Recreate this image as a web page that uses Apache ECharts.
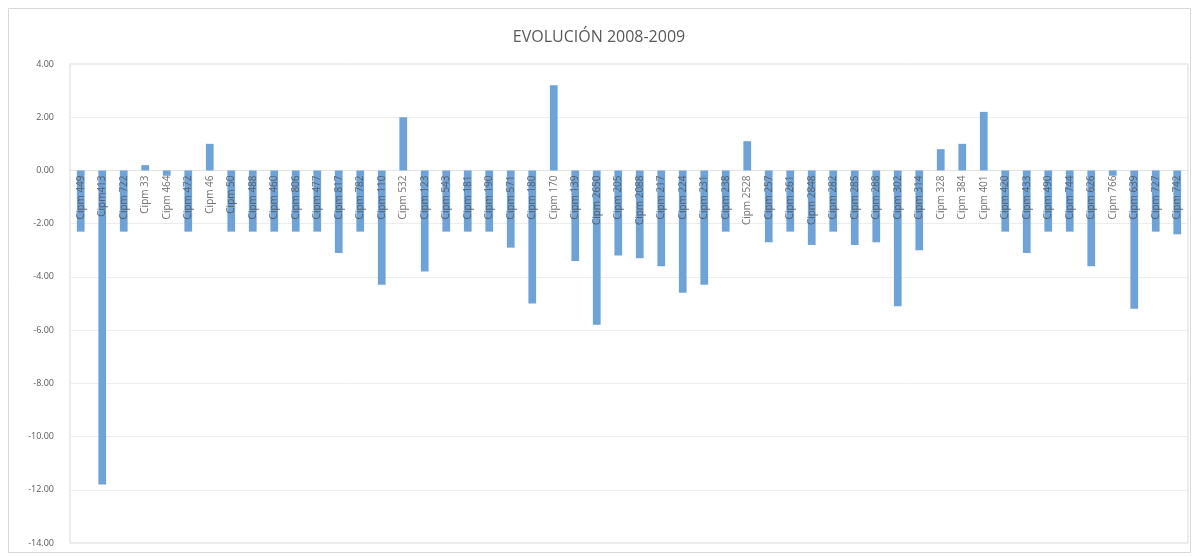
<!DOCTYPE html>
<html>
<head>
<meta charset="utf-8">
<script src="https://cdn.jsdelivr.net/npm/echarts@6/dist/echarts.min.js"></script>
<style>
  html, body { margin: 0; padding: 0; background: #ffffff; }
  #chart { width: 1198px; height: 557px; }
</style>
</head>
<body>
<div id="chart"></div>
<script>
// Centros (categorías del eje X)
const categories = [
  'Cipm 449', 'Cipm413', 'Cipm 722', 'Cipm 33', 'Cipm 464', 'Cipm 472', 'Cipm 46', 'Cipm 50',
  'Cipm 488', 'Cipm 460', 'Cipm 806', 'Cipm 477', 'Cipm 817', 'Cipm 782', 'Cipm 110', 'Cipm 532',
  'Cipm 123', 'Cipm 543', 'Cipm 181', 'Cipm 190', 'Cipm 571', 'Cipm 180', 'Cipm 170', 'Cipm 139',
  'Cipm 2650', 'Cipm 205', 'Cipm 2088', 'Cipm 217', 'Cipm 224', 'Cipm 231', 'Cipm 238', 'Cipm 2528',
  'Cipm 257', 'Cipm 261', 'Cipm 2848', 'Cipm 282', 'Cipm 285', 'Cipm 288', 'Cipm 302', 'Cipm 314',
  'Cipm 328', 'Cipm 384', 'Cipm 401', 'Cipm 420', 'Cipm 433', 'Cipm 490', 'Cipm 744', 'Cipm 626',
  'Cipm 766', 'Cipm 639', 'Cipm 727', 'Cipm 742'
];

// Variación 2008-2009 por centro
const evolucion = [
  -2.3, -11.8, -2.3, 0.2, -0.2, -2.3, 1.0, -2.3,
  -2.3, -2.3, -2.3, -2.3, -3.1, -2.3, -4.3, 2.0,
  -3.8, -2.3, -2.3, -2.3, -2.9, -5.0, 3.2, -3.4,
  -5.8, -3.2, -3.3, -3.6, -4.6, -4.3, -2.3, 1.1,
  -2.7, -2.3, -2.8, -2.3, -2.8, -2.7, -5.1, -3.0,
  0.8, 1.0, 2.2, -2.3, -3.1, -2.3, -2.3, -3.6,
  -0.2, -5.2, -2.3, -2.4
];

// Marcas del eje Y
const yTicks = { min: -14, max: 4, step: 2 };

const chart = echarts.init(document.getElementById('chart'), null, { renderer: 'canvas' });

// Etiquetas de categoría colgadas de la línea del cero
const labelPoints = categories.map((name, i) => [i, 0]);

chart.setOption({
  animation: false,
  backgroundColor: '#ffffff',
  textStyle: { fontFamily: '"Open Sans", "Liberation Sans", sans-serif' },
  graphic: [{
    type: 'rect',
    shape: { x: 8.5, y: 8.5, width: 1182, height: 544 },
    style: { fill: 'none', stroke: '#d9d9d9', lineWidth: 1 },
    silent: true
  }],
  title: {
    text: 'EVOLUCIÓN 2008-2009',
    left: 'center',
    top: 24,
    textStyle: {
      color: '#595959',
      fontSize: 16,
      fontWeight: 'normal',
      fontFamily: '"Open Sans", "Liberation Sans", sans-serif'
    }
  },
  grid: {
    left: 70,
    right: 10,
    top: 64,
    bottom: 14,
    show: true,
    borderColor: '#d9d9d9',
    borderWidth: 1,
    containLabel: false,
    outerBoundsMode: 'none'
  },
  xAxis: {
    type: 'category',
    data: categories,
    axisLine: { onZero: true, lineStyle: { color: '#e3e3e3' } },
    axisTick: { show: false },
    axisLabel: { show: false },
    splitLine: { show: false }
  },
  yAxis: {
    type: 'value',
    min: yTicks.min,
    max: yTicks.max,
    interval: yTicks.step,
    axisLine: { show: false },
    axisTick: { show: false },
    axisLabel: {
      fontSize: 9,
      color: '#595959',
      margin: 16,
      formatter: v => v.toFixed(2)
    },
    splitLine: { lineStyle: { color: '#ececec', width: 1 } }
  },
  series: [{
    type: 'bar',
    data: evolucion,
    barWidth: '36%',
    z: 2,
    itemStyle: { color: '#6fa3d8' }
  }, {
    type: 'scatter',
    data: labelPoints,
    symbolSize: 0,
    silent: true,
    z: 4,
    label: {
      show: true,
      position: 'inside',
      rotate: 90,
      align: 'right',
      verticalAlign: 'middle',
      offset: [-5, 0],
      fontSize: 10,
      color: '#4d4d4d',
      formatter: p => categories[p.dataIndex]
    }
  }]
});
</script>
</body>
</html>
